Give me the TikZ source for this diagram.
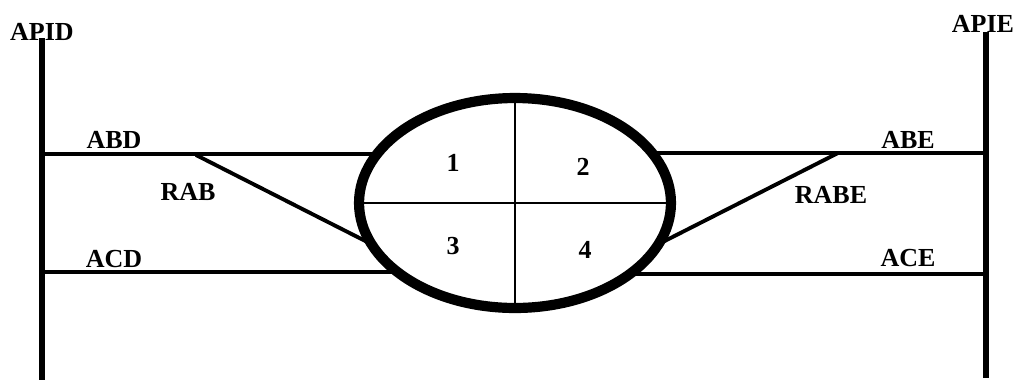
\documentclass[tikz,border=0pt]{standalone}
\usepackage{fontspec}
\setmainfont{Liberation Serif}
\usepackage{tikz}
\usetikzlibrary{shapes.geometric}

\begin{document}
\begin{tikzpicture}[
  x=0.02cm, y=-0.02cm,
  font=\fontsize{14.8}{16}\selectfont\bfseries,
  axis/.style ={line width=2.9pt},
  road/.style ={line width=2.4pt},
  ramp/.style ={line width=2.2pt},
  ring/.style ={draw, ellipse, line width=5.8pt, inner sep=0pt, outer sep=0pt,
                minimum width=6.24cm, minimum height=4.2cm},
  split/.style={line width=0.85pt},
  lbl/.style  ={inner sep=0pt}
]
\useasboundingbox (0,0) rectangle (1017,383);

% =============== axes ===============
\coordinate (dT) at (42,38);
\coordinate (dB) at (42,380);
\coordinate (eT) at (986,32);
\coordinate (eB) at (986,378);
\draw[axis] (dT) -- (dB);
\draw[axis] (eT) -- (eB);
\node[lbl] (apid) at (42,32) {APID};
\node[lbl] (apie) at (983,24) {APIE};

% =============== roundabout ===============
\node[ring] (rb) at (515,203) {};
\draw[split] (rb.north) -- (rb.south);
\draw[split] (rb.west) -- (rb.east);
\node[lbl] (q1) at (453,163) {1};
\node[lbl] (q2) at (583,167) {2};
\node[lbl] (q3) at (453,246) {3};
\node[lbl] (q4) at (585,250) {4};

% =============== roads, each ending on the ring ===============
\coordinate (abd) at (42,154);
\coordinate (acd) at (42,272);
\coordinate (abe) at (986,153);
\coordinate (ace) at (986,274);
\draw[road] (abd) -- (rb.160.4 |- abd);
\draw[road] (acd) -- (rb.210.4 |- acd);
\draw[road] (abe) -- (rb.20 |- abe);
\draw[road] (ace) -- (rb.328.3 |- ace);

% slip ramps from the upper roads down to the ring
\coordinate (rabS)  at (196,155);
\coordinate (rabeS) at (838,153);
\draw[ramp] (rabS)  -- (rb.196.4);
\draw[ramp] (rabeS) -- (rb.344.7);

\node[lbl] (abdL)  at (114,140) {ABD};
\node[lbl] (acdL)  at (114,259) {ACD};
\node[lbl] (rabL)  at (188,192) {RAB};
\node[lbl] (abeL)  at (908,140) {ABE};
\node[lbl] (aceL)  at (908,258) {ACE};
\node[lbl] (rabeL) at (831,195) {RABE};
\end{tikzpicture}
\end{document}
